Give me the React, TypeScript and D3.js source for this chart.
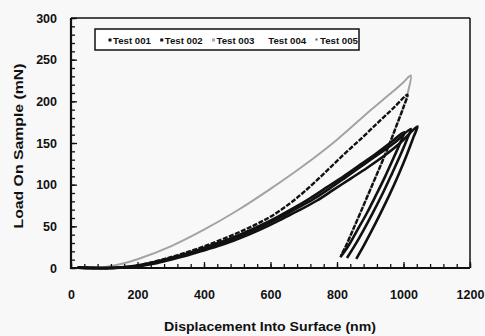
import { useEffect, useRef } from 'react';
import * as d3 from 'd3';

const SERIES = ['Test 001', 'Test 002', 'Test 003', 'Test 004', 'Test 005'];

const xTickLabels = [0, 200, 400, 600, 800, 1000, 1200];
const yTickLabels = [0, 50, 100, 150, 200, 250, 300];

// displacement (nm) and load (mN): loading branch, then unloading branch
const test001LoadH = [20, 110, 170, 220, 270, 320, 370, 420, 470, 520, 570, 620, 670, 720, 770, 820, 870, 920, 960, 1002];
const test001LoadP = [0.4, 0, 1.5, 4.5, 9, 14, 20, 27, 34, 42, 51, 61, 72, 84, 97, 110, 124, 138, 150, 163];
const test001UnloadH = [990, 970, 945, 918, 890, 862, 835, 810];
const test001UnloadP = [150, 132, 110, 88, 66, 46, 27, 13];

const test002LoadH = [20, 130, 200, 300, 400, 500, 560, 610, 660, 700, 760, 820, 880, 927, 970, 1012];
const test002LoadP = [0.4, 0, 3, 13, 26, 42, 53, 64, 78, 91, 113, 136, 158, 176, 192, 208];
const test002UnloadH = [1000, 980, 957, 930, 900, 870, 845, 825, 812];
const test002UnloadP = [193, 172, 148, 122, 94, 66, 43, 25, 15];

const test003LoadH = [20, 80, 150, 200, 300, 400, 500, 600, 700, 800, 900, 960, 1000, 1022];
const test003LoadP = [0.4, 0, 4.7, 10.5, 26, 46, 69, 95, 123, 154, 189, 209, 223, 231];
const test003UnloadH = [1014, 1000, 980, 957, 930, 900, 870, 845, 825, 812];
const test003UnloadP = [212, 193, 172, 148, 122, 94, 66, 43, 25, 15];

const test004LoadH = [20, 120, 180, 230, 280, 330, 380, 430, 480, 530, 580, 630, 680, 730, 780, 830, 880, 930, 975, 1022];
const test004LoadP = [0.4, 0, 1.5, 4.5, 9, 14, 20, 27, 34, 42, 51, 61, 72, 83, 96, 110, 124, 138, 151, 167];
const test004UnloadH = [1010, 990, 965, 938, 910, 882, 855, 830];
const test004UnloadP = [154, 135, 113, 90, 68, 47, 28, 12];

const test005LoadH = [20, 135, 190, 240, 290, 340, 390, 440, 490, 540, 590, 640, 690, 740, 790, 840, 890, 940, 990, 1042];
const test005LoadP = [0.4, 0, 1.5, 4.5, 9, 14, 20, 26, 33, 41, 50, 60, 70, 81, 94, 107, 120, 134, 150, 170];
const test005UnloadH = [1030, 1010, 985, 958, 930, 902, 878, 858];
const test005UnloadP = [157, 136, 112, 88, 65, 43, 25, 11];

const FONT = '"Liberation Sans", Arial, Helvetica, sans-serif';
const W = 485;
const H = 336;

const toPts = (h: number[], p: number[]) => h.map((v, i) => [v, p[i]] as [number, number]);

export default function App() {
  const svgRef = useRef<SVGSVGElement>(null);

  useEffect(() => {
    if (!svgRef.current) return;
    const svg = d3.select(svgRef.current);
    svg.selectAll('*').remove();

    const margin = { top: 18, right: 15, bottom: 68, left: 71 };
    const x = d3.scaleLinear().domain([0, 1200]).range([margin.left, W - margin.right]);
    const y = d3.scaleLinear().domain([0, 300]).range([H - margin.bottom, margin.top]);

    svg.append('rect').attr('width', W).attr('height', H).attr('fill', '#f8f8f8');

    const curves = [
      { name: 'Test 003', pts: toPts(test003LoadH, test003LoadP).concat(toPts(test003UnloadH, test003UnloadP)), color: '#a3a3a3', width: 2, dash: null },
      { name: 'Test 001', pts: toPts(test001LoadH, test001LoadP).concat(toPts(test001UnloadH, test001UnloadP)), color: '#111', width: 2.6, dash: null },
      { name: 'Test 004', pts: toPts(test004LoadH, test004LoadP).concat(toPts(test004UnloadH, test004UnloadP)), color: '#111', width: 2.6, dash: null },
      { name: 'Test 005', pts: toPts(test005LoadH, test005LoadP).concat(toPts(test005UnloadH, test005UnloadP)), color: '#111', width: 2.6, dash: null },
      { name: 'Test 002', pts: toPts(test002LoadH, test002LoadP).concat(toPts(test002UnloadH, test002UnloadP)), color: '#111', width: 2.4, dash: '5 1.5' },
    ];

    const line = d3.line<[number, number]>()
      .x((d) => x(d[0]))
      .y((d) => y(d[1]))
      .curve(d3.curveCatmullRom.alpha(0.5));

    curves.forEach((c) => {
      svg.append('path')
        .attr('d', line(c.pts))
        .attr('fill', 'none')
        .attr('stroke', c.color)
        .attr('stroke-width', c.width)
        .attr('stroke-linejoin', 'round')
        .attr('stroke-dasharray', c.dash);
    });

    // minor ticks
    const xMinor = d3.range(0, 1201, 40);
    const yMinor = d3.range(0, 301, 10);
    const xAxisY = y(0);

    svg.append('g')
      .attr('transform', 'translate(0,' + xAxisY + ')')
      .call(d3.axisBottom(x).tickValues(xMinor).tickSize(-4).tickFormat(() => ''))
      .call((g) => g.select('.domain').remove());
    svg.append('g')
      .attr('transform', 'translate(' + x(0) + ',0)')
      .call(d3.axisLeft(y).tickValues(yMinor).tickSize(-4).tickFormat(() => ''))
      .call((g) => g.select('.domain').remove());

    // major ticks + labels
    const xa = svg.append('g')
      .attr('transform', 'translate(0,' + xAxisY + ')')
      .call(d3.axisBottom(x).tickValues(xTickLabels).tickSize(-6).tickPadding(22).tickFormat(d3.format('d')));
    xa.select('.domain').remove();

    const ya = svg.append('g')
      .attr('transform', 'translate(' + x(0) + ',0)')
      .call(d3.axisLeft(y).tickValues(yTickLabels).tickSize(-6).tickPadding(14).tickFormat(d3.format('d')));
    ya.select('.domain').remove();

    svg.selectAll('.tick line').attr('stroke', '#111').attr('stroke-width', 1.3);
    svg.selectAll('.tick text')
      .attr('font-family', FONT)
      .attr('font-size', 12.5)
      .attr('font-weight', 'bold')
      .attr('fill', '#111');

    // frame
    svg.append('line').attr('x1', x(0)).attr('x2', x(1200)).attr('y1', y(300)).attr('y2', y(300)).attr('stroke', '#111').attr('stroke-width', 1.5);
    svg.append('line').attr('x1', x(1200)).attr('x2', x(1200)).attr('y1', y(300)).attr('y2', y(0)).attr('stroke', '#111').attr('stroke-width', 1.5);
    svg.append('line').attr('x1', x(0)).attr('x2', x(0)).attr('y1', y(300)).attr('y2', y(0) + 1).attr('stroke', '#111').attr('stroke-width', 2.2);
    svg.append('line').attr('x1', x(0) - 1).attr('x2', x(1200)).attr('y1', y(0)).attr('y2', y(0)).attr('stroke', '#111').attr('stroke-width', 2.2);

    // axis titles
    svg.append('text')
      .attr('x', 270)
      .attr('y', 331)
      .attr('text-anchor', 'middle')
      .attr('font-family', FONT)
      .attr('font-size', 13)
      .attr('font-weight', 'bold')
      .attr('fill', '#111')
      .attr('textLength', 212)
      .attr('lengthAdjust', 'spacingAndGlyphs')
      .text('Displacement Into Surface (nm)');

    svg.append('text')
      .attr('transform', 'translate(23,146) rotate(-90)')
      .attr('text-anchor', 'middle')
      .attr('font-family', FONT)
      .attr('font-size', 13)
      .attr('font-weight', 'bold')
      .attr('fill', '#111')
      .attr('textLength', 165)
      .attr('lengthAdjust', 'spacingAndGlyphs')
      .text('Load On Sample (mN)');

    // legend
    const lg = svg.append('g');
    lg.append('rect')
      .attr('x', 95).attr('y', 29).attr('width', 264).attr('height', 21)
      .attr('fill', '#fff').attr('stroke', '#111').attr('stroke-width', 1.5);

    const lx = d3.scalePoint<string>().domain(SERIES).range([113, 320]);
    const markerColor: Record<string, string | null> = {
      'Test 001': '#111', 'Test 002': '#111', 'Test 003': '#aaa', 'Test 004': null, 'Test 005': '#555',
    };
    SERIES.forEach((s) => {
      const px = lx(s)!;
      const mc = markerColor[s];
      if (mc) {
        lg.append('rect')
          .attr('x', px - 4.5).attr('y', 38.5)
          .attr('width', s === 'Test 005' ? 2 : 3).attr('height', s === 'Test 005' ? 2 : 3)
          .attr('fill', mc);
      }
      lg.append('text')
        .attr('x', px)
        .attr('y', 43.5)
        .attr('font-family', FONT)
        .attr('font-size', 9.5)
        .attr('font-weight', 'bold')
        .attr('fill', '#111')
        .attr('textLength', 38)
        .attr('lengthAdjust', 'spacingAndGlyphs')
        .text(s);
    });
  }, []);

  return (
    <div style={{ position: 'absolute', left: 0, top: 0 }}>
      <svg ref={svgRef} width={W} height={H} viewBox={'0 0 ' + W + ' ' + H} style={{ display: 'block' }} />
    </div>
  );
}
